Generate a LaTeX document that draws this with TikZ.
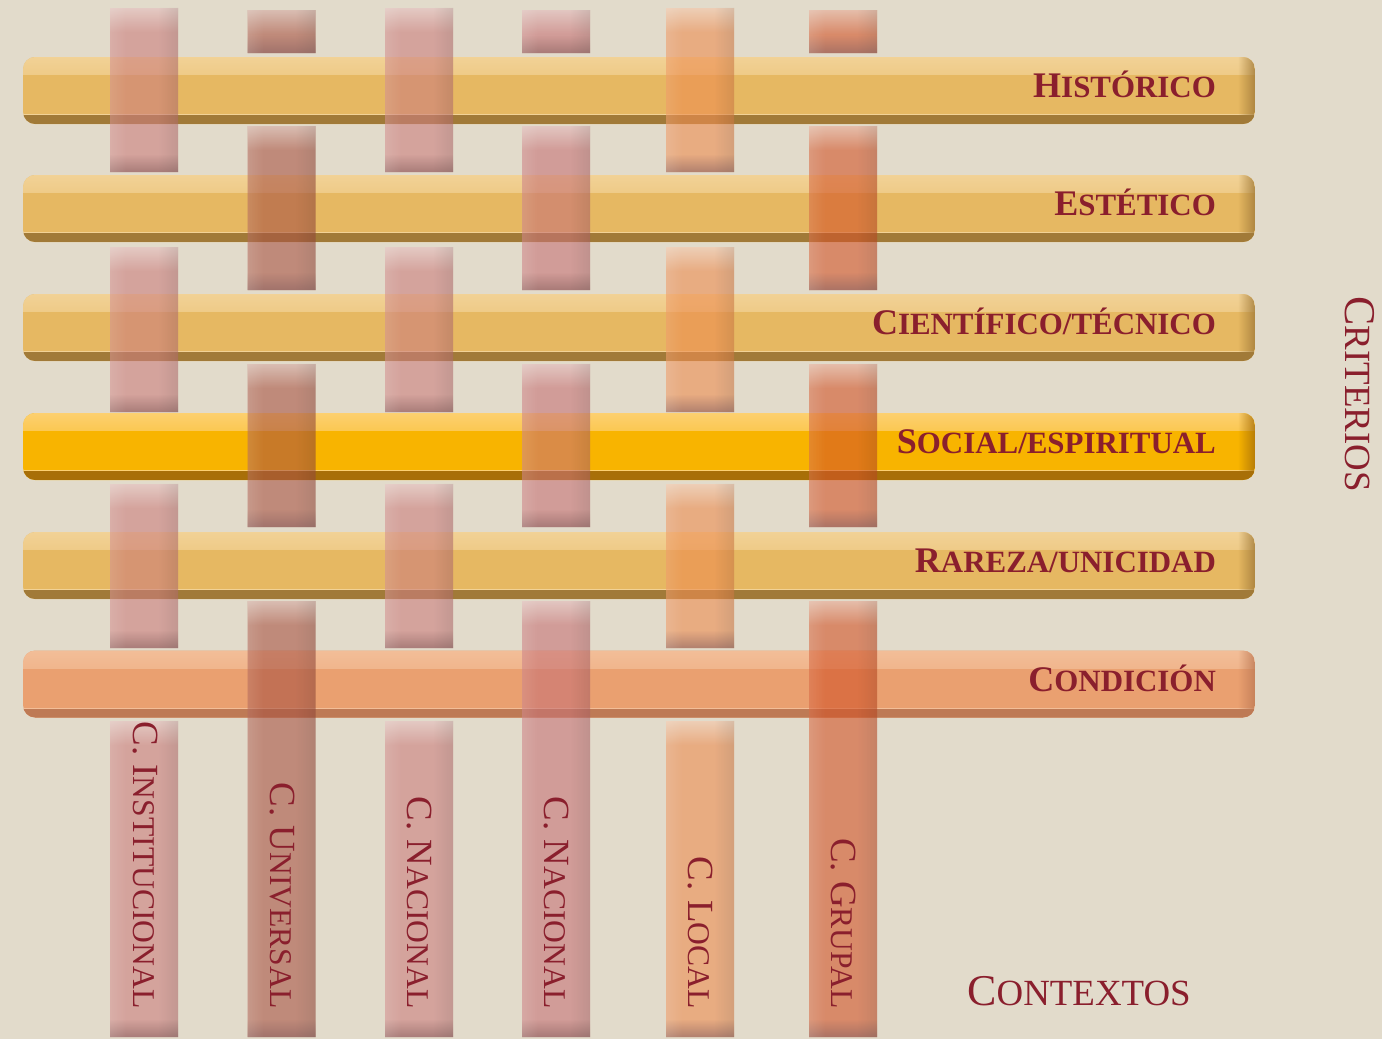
\documentclass[tikz,border=0pt]{standalone}
\usepackage{fontspec}
\setmainfont{Liberation Serif}
\usepackage{tikz}
\usetikzlibrary{positioning,fadings}
\definecolor{wvpaper}{HTML}{E2DBCB}
\definecolor{wvink}{HTML}{8A1F2D}
\definecolor{wvgold}{HTML}{E6B862}
\definecolor{wvgoldhi}{HTML}{F2D296}
\definecolor{wvgoldlo}{HTML}{A17A38}
\definecolor{wvsun}{HTML}{F8B400}
\definecolor{wvsunhi}{HTML}{FDD070}
\definecolor{wvsunlo}{HTML}{A86F08}
\definecolor{wvpeach}{HTML}{EAA070}
\definecolor{wvpeachhi}{HTML}{F3BE98}
\definecolor{wvpeachlo}{HTML}{BE7A55}
\definecolor{wvrose}{HTML}{CC7E7E}
\definecolor{wvclay}{HTML}{A95444}
\definecolor{wvmauve}{HTML}{C77276}
\definecolor{wvamber}{HTML}{ED8D51}
\definecolor{wvbrick}{HTML}{D25429}
\newcommand{\barcap}[2]{{\fontsize{20.5}{24}\selectfont #1}{\fontsize{17.6}{20}\selectfont #2}}
\newcommand{\colcap}[2]{{\fontsize{21}{24}\selectfont #1}{\fontsize{18}{21}\selectfont #2}}
\newcommand{\sidecap}[2]{{\fontsize{25}{28}\selectfont #1}{\fontsize{21}{24}\selectfont #2}}

\begin{document}
\begin{tikzpicture}[x=0.02cm,y=-0.02cm,
  bar/.style n args={3}{rectangle,rounded corners=0.24cm,fill=#1,
    minimum width=24.64cm,minimum height=1.34cm,text width=23.08cm,
    inner xsep=0.78cm,inner ysep=0pt,align=right,text height=0.48cm,
    text depth=0.2cm,text=wvink,font=\bfseries,
    path picture={
      \fill[sharp corners,#2,path fading=south]
        (path picture bounding box.north west) rectangle
        ([yshift=-0.36cm]path picture bounding box.north east);
      \fill[sharp corners,#3] (path picture bounding box.south west) rectangle
        ([yshift=0.18cm]path picture bounding box.south east);
      \draw[#2,line width=0.5pt]
        ([yshift=0.19cm]path picture bounding box.south west) --
        ([yshift=0.19cm]path picture bounding box.south east);
      \fill[sharp corners,#3,opacity=.8,path fading=west]
        ([xshift=-0.34cm]path picture bounding box.north east)
        rectangle (path picture bounding box.south east);}},
  collab/.style={rotate=-90,anchor=east,inner sep=0pt,text height=14pt,
    text depth=0pt,text=wvink},
  sidelab/.style={inner sep=0pt,text height=17pt,text depth=0pt,text=wvink},
]
\useasboundingbox (0,0) rectangle (1382,1039);
\fill[wvpaper] (0,0) rectangle (1382,1039);

\node[bar={wvgold}{wvgoldhi}{wvgoldlo}] (historico) at (639,90.5)
  {\barcap{H}{ISTÓRICO}};
\node[bar={wvgold}{wvgoldhi}{wvgoldlo}] (estetico) at (639,208.5)
  {\barcap{E}{STÉTICO}};
\node[bar={wvgold}{wvgoldhi}{wvgoldlo}] (cientifico) at (639,327.5)
  {\barcap{C}{IENTÍFICO/TÉCNICO}};
\node[bar={wvsun}{wvsunhi}{wvsunlo}] (social) at (639,446.5)
  {\barcap{S}{OCIAL/ESPIRITUAL}};
\node[bar={wvgold}{wvgoldhi}{wvgoldlo}] (rareza) at (639,565.5)
  {\barcap{R}{AREZA/UNICIDAD}};
\node[bar={wvpeach}{wvpeachhi}{wvpeachlo}] (condicion) at (639,684)
  {\barcap{C}{ONDICIÓN}};

\foreach \cx/\cc [count=\i] in {144/wvrose,281.5/wvclay,419/wvrose,
    556/wvmauve,700/wvamber,843/wvbrick}{
  \ifodd\i \def\seglist{8/172,247/412,484/648,721/1037}%
  \else \def\seglist{10/53,126/290,364/527,601/1037}\fi
  \foreach \ya/\yb in \seglist{
    \begin{scope}[transparency group,opacity=.6]
      \fill[\cc] (\cx-34,\ya) rectangle (\cx+34,\yb);
      \fill[white,opacity=.5,path fading=south]
        (\cx-34,\ya) rectangle (\cx+34,\ya+24);
      \fill[wvink!60!black,opacity=.6,path fading=north]
        (\cx-34,\yb-18) rectangle (\cx+34,\yb);
      \fill[black,opacity=.15,path fading=west]
        (\cx+14,\ya) rectangle (\cx+34,\yb);
      \fill[white,opacity=.15,path fading=east]
        (\cx-34,\ya) rectangle (\cx-18,\yb);
    \end{scope}
  }
}

\node[collab] (institucional) at (146,1009) {\colcap{C. I}{NSTITUCIONAL}};
\node[collab] (universal) at (283,1009) {\colcap{C. U}{NIVERSAL}};
\node[collab] (nacionala) at (420,1009) {\colcap{C. N}{ACIONAL}};
\node[collab] (nacionalb) at (557,1009) {\colcap{C. N}{ACIONAL}};
\node[collab] (local) at (701,1009) {\colcap{C. L}{OCAL}};
\node[collab] (grupal) at (844,1009) {\colcap{C. G}{RUPAL}};

\node[sidelab,rotate=-90] (criterios) at (1360,394) {\sidecap{C}{RITERIOS}};
\node[sidelab] (contextos) at (1079,990.5) {\sidecap{C}{ONTEXTOS}};
\end{tikzpicture}
\end{document}
